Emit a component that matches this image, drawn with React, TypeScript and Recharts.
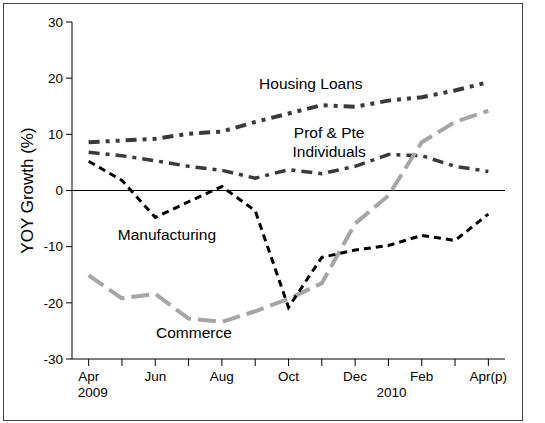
import { LineChart, Line, XAxis, YAxis, ReferenceLine, ReferenceDot } from "recharts";

const months = ["Apr", "May", "Jun", "Jul", "Aug", "Sep", "Oct", "Nov", "Dec", "Jan", "Feb", "Mar", "Apr(p)"];
const tickMonths = ["Apr", "", "Jun", "", "Aug", "", "Oct", "", "Dec", "", "Feb", "", "Apr(p)"];
const tickYears = ["2009", "", "", "", "", "", "", "", "", "2010", "", "", ""];

const housingLoans = [8.6, 8.9, 9.2, 10.1, 10.5, 12.2, 13.7, 15.2, 14.9, 16.0, 16.6, 17.8, 19.3];
const profPte = [6.8, 6.2, 5.3, 4.3, 3.6, 2.2, 3.7, 3.0, 4.3, 6.4, 6.2, 4.3, 3.4];
const manufacturing = [5.2, 1.8, -4.8, -2.0, 0.7, -3.6, -20.8, -11.9, -10.6, -9.8, -8.0, -8.9, -4.2];
const commerce = [-15.1, -19.2, -18.4, -22.8, -23.4, -21.5, -19.3, -16.5, -5.9, -0.9, 8.6, 12.2, 14.2];

const yTicks = [-30, -20, -10, 0, 10, 20, 30];

const data = months.map((m, i) => ({
  idx: i,
  month: m,
  housing: housingLoans[i],
  prof: profPte[i],
  manu: manufacturing[i],
  comm: commerce[i],
}));

const FONT = "'Liberation Sans', Arial, sans-serif";

function MonthTick(props: any) {
  const { x, y, payload } = props;
  const i = payload.value as number;
  const yr = tickYears[i];
  return (
    <g>
      {tickMonths[i] && (
        <text x={x} y={y + 13} textAnchor="middle" fontSize={13.5} fontFamily={FONT} fill="#000">
          {tickMonths[i]}
        </text>
      )}
      {yr && (
        <text x={i === 0 ? x - 11 : x + 3} y={y + 29} textAnchor={i === 0 ? "start" : "middle"} fontSize={13.5} fontFamily={FONT} fill="#000">
          {yr}
        </text>
      )}
    </g>
  );
}

const note = (value: string) => (props: any) => {
  const vb = props.viewBox || {};
  const cx = (vb.x ?? 0) + (vb.width ?? 0) / 2;
  const cy = (vb.y ?? 0) + (vb.height ?? 0) / 2;
  return (
    <text x={cx} y={cy + 5} textAnchor="middle" fontSize={15.5} fontFamily={FONT} fill="#000">
      {value}
    </text>
  );
};

export default function App() {
  return (
    <div style={{ position: "absolute", left: 0, top: 0, width: 545, height: 423, background: "#fff" }}>
      <div style={{ position: "absolute", left: 3, top: 3, width: 518, height: 416, border: "1px solid #444" }} />
      <div style={{ position: "absolute", left: 0, top: 0 }}>
        <LineChart width={545} height={423} data={data} margin={{ top: 22, right: 40, bottom: 0, left: 0 }}>
          <XAxis
            dataKey="idx"
            type="number"
            domain={[-0.5, 12.5]}
            ticks={months.map((_, i) => i)}
            interval={0}
            height={64}
            tickSize={7}
            tickMargin={2}
            stroke="#000"
            tick={<MonthTick />}
          />
          <XAxis xAxisId="top" dataKey="idx" type="number" domain={[-0.5, 12.5]} orientation="top" height={0} tick={false} tickLine={false} stroke="#000" />
          <YAxis
            domain={[-30, 30]}
            ticks={yTicks}
            width={72}
            tickSize={6}
            tickMargin={3}
            stroke="#000"
            tick={{ fontSize: 13.5, fontFamily: FONT, fill: "#000" }}
            label={{ value: "YOY Growth (%)", angle: -90, position: "insideLeft", offset: 27, fontSize: 17, fontFamily: FONT, fill: "#000", style: { textAnchor: "middle" } }}
          />
          <YAxis yAxisId="right" domain={[-30, 30]} orientation="right" width={0} tick={false} tickLine={false} stroke="#000" />
          <ReferenceLine y={0} stroke="#000" strokeWidth={1} />
          <Line dataKey="housing" stroke="#3a3a3a" strokeWidth={4} strokeDasharray="11 6 4 6 4 6" dot={false} isAnimationActive={false} />
          <Line dataKey="prof" stroke="#3a3a3a" strokeWidth={3.5} strokeDasharray="11 6 4 6" dot={false} isAnimationActive={false} />
          <Line dataKey="comm" stroke="#a6a6a6" strokeWidth={4} strokeDasharray="18 7" dot={false} isAnimationActive={false} />
          <Line dataKey="manu" stroke="#000" strokeWidth={3} strokeDasharray="7 5" dot={false} isAnimationActive={false} />
          <ReferenceDot x={6.67} y={19.05} r={0} fill="none" stroke="none" label={note("Housing Loans")} />
          <ReferenceDot x={7.22} y={10.15} r={0} fill="none" stroke="none" label={note("Prof & Pte")} />
          <ReferenceDot x={7.22} y={6.77} r={0} fill="none" stroke="none" label={note("Individuals")} />
          <ReferenceDot x={2.35} y={-8.0} r={0} fill="none" stroke="none" label={note("Manufacturing")} />
          <ReferenceDot x={3.16} y={-25.3} r={0} fill="none" stroke="none" label={note("Commerce")} />
        </LineChart>
      </div>
    </div>
  );
}
